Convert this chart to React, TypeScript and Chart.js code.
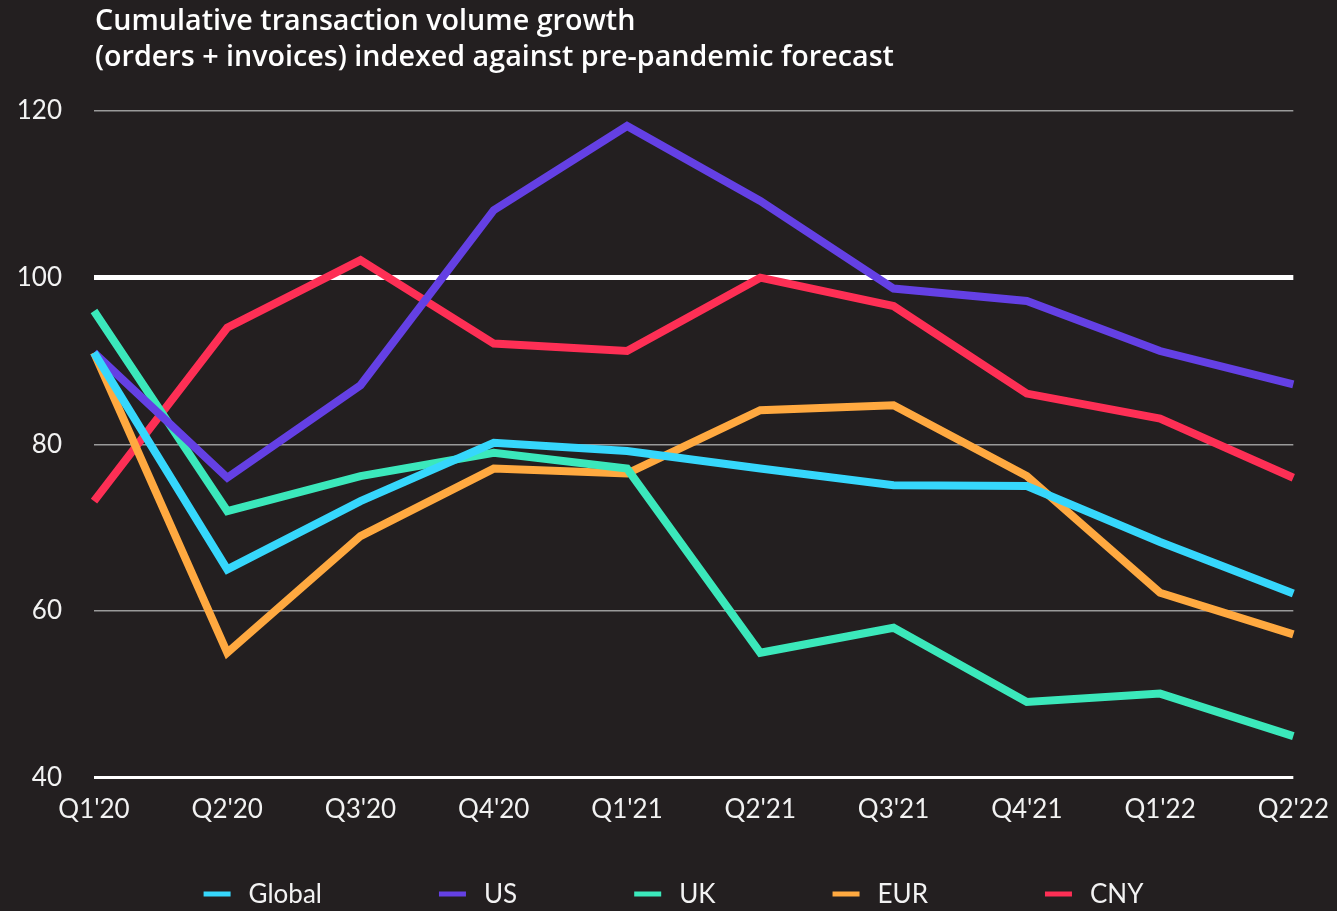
import React, { useEffect, useRef } from "react";
import { Chart, registerables } from "chart.js";

Chart.register(...registerables);

const categories = ["Q1'20", "Q2'20", "Q3'20", "Q4'20", "Q1'21", "Q2'21", "Q3'21", "Q4'21", "Q1'22", "Q2'22"];
const globalValues = [91, 65, 73.2, 80.2, 79.2, 77.1, 75.1, 75, 68.3, 62.1];
const usValues = [91, 76, 87.1, 108.1, 118.2, 109.2, 98.7, 97.2, 91.2, 87.2];
const ukValues = [96, 72, 76.2, 79, 77.1, 55, 58, 49.1, 50.1, 45];
const eurValues = [91, 55, 69, 77.1, 76.5, 84.1, 84.7, 76.2, 62.2, 57.2];
const cnyValues = [73.2, 94, 102.1, 92.1, 91.2, 100, 96.6, 86.1, 83.1, 76];
const titleLines = ["Cumulative transaction volume growth", "(orders + invoices) indexed against pre-pandemic forecast"];

const BG = "#231f20";
const FONT = "Lato, 'Noto Sans', sans-serif";
const TITLE_FONT = "'Open Sans', Lato, sans-serif";

const titlePlugin = {
  id: "customTitle",
  afterDraw(chart: any) {
    const ctx = chart.ctx;
    ctx.save();
    ctx.fillStyle = "#ffffff";
    ctx.font = `600 28.7px ${TITLE_FONT}`;
    ctx.textAlign = "left";
    ctx.textBaseline = "middle";
    const x = chart.chartArea.left + 1;
    titleLines.forEach((t, i) => ctx.fillText(t, x, 22 + i * 36));
    ctx.restore();
  },
};

const legendPlugin = {
  id: "customLegend",
  afterDraw(chart: any) {
    const ctx = chart.ctx;
    ctx.save();
    ctx.font = `26px ${FONT}`;
    ctx.textBaseline = "middle";
    ctx.textAlign = "left";
    const boxW = 27;
    const boxGap = 18;
    const itemGap = 117;
    const items = chart.data.datasets.map((d: any) => ({
      label: d.label,
      color: d.borderColor,
      w: boxW + boxGap + ctx.measureText(d.label).width,
    }));
    const total = items.reduce((s: number, it: any) => s + it.w, 0) + itemGap * (items.length - 1);
    let x = chart.width / 2 + 5 - total / 2;
    const y = 894;
    items.forEach((it: any) => {
      ctx.fillStyle = it.color;
      ctx.fillRect(x, y - 2.5, boxW, 5);
      ctx.fillStyle = "#f2f2f2";
      ctx.fillText(it.label, x + boxW + boxGap, y + 1);
      x += it.w + itemGap;
    });
    ctx.restore();
  },
};

export default function App() {
  const ref = useRef<HTMLCanvasElement | null>(null);
  useEffect(() => {
    document.body.style.margin = "0";
    document.body.style.background = BG;
    const mk = (label: string, data: number[], color: string) => ({
      label,
      data,
      borderColor: color,
      backgroundColor: color,
      borderWidth: 8,
      pointRadius: 0,
      tension: 0,
      borderCapStyle: "butt",
      borderJoinStyle: "miter",
      fill: false,
    });
    const chart = new Chart(ref.current as HTMLCanvasElement, {
      type: "line",
      data: {
        labels: categories,
        datasets: [
          mk("Global", globalValues, "#36d7fc"),
          mk("US", usValues, "#6440e4"),
          mk("UK", ukValues, "#3be8bb"),
          mk("EUR", eurValues, "#ffa940"),
          mk("CNY", cnyValues, "#fe2f55"),
        ] as any,
      },
      options: {
        animation: false,
        responsive: true,
        maintainAspectRatio: false,
        layout: { padding: { top: 111, left: 18, right: 30, bottom: 78 } },
        plugins: { legend: { display: false }, title: { display: false }, tooltip: { enabled: false } },
        scales: {
          x: {
            offset: false,
            grid: { display: false },
            border: { display: false },
            ticks: { color: "#f2f2f2", font: { family: FONT, size: 26 }, padding: 8, maxRotation: 0, autoSkip: false },
          },
          y: {
            min: 40,
            max: 120,
            border: { display: false },
            afterFit: (scale: any) => {
              scale.width = 76;
            },
            grid: {
              drawTicks: false,
              color: (c: any) => (c.tick && (c.tick.value === 100 || c.tick.value === 40) ? "#ffffff" : "#9a9a9a"),
              lineWidth: (c: any) => (c.tick && c.tick.value === 100 ? 5 : c.tick && c.tick.value === 40 ? 3 : 1.5),
            },
            ticks: { stepSize: 20, color: "#f2f2f2", font: { family: FONT, size: 26 }, padding: 32 },
          },
        },
      },
      plugins: [titlePlugin, legendPlugin],
    });
    return () => chart.destroy();
  }, []);
  return (
    <div style={{ width: 1337, height: 911, background: BG, position: "relative" }}>
      <canvas ref={ref} />
    </div>
  );
}
